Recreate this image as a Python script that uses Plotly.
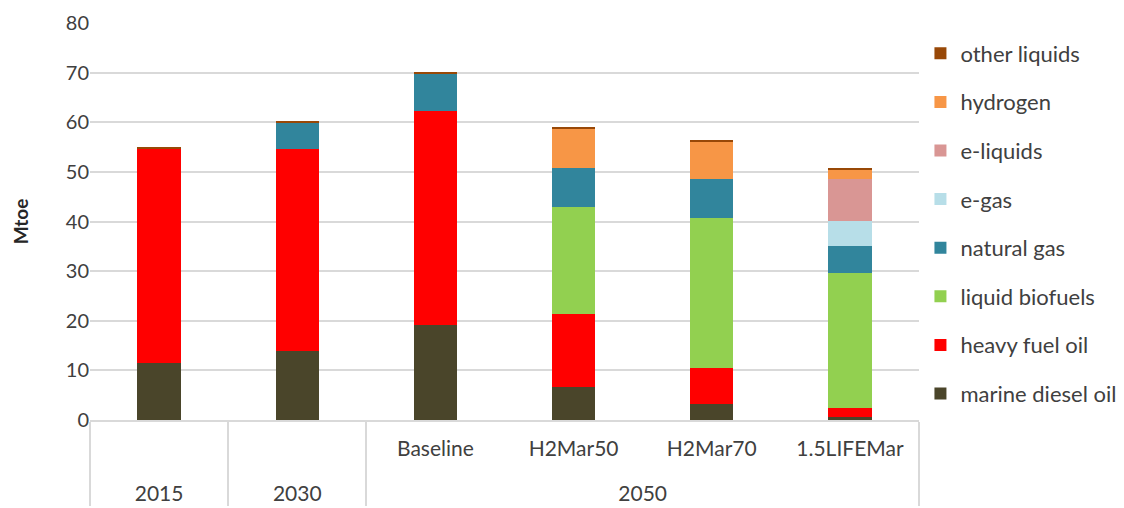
import plotly.graph_objects as go

outer = ["2015", "2030", "2050", "2050", "2050", "2050"]
inner = [" ", "  ", "Baseline", "H2Mar50", "H2Mar70", "1.5LIFEMar"]

marine_diesel_oil = [11.5, 14.0, 19.2, 6.6, 3.3, 0.6]
heavy_fuel_oil = [43.3, 40.6, 43.1, 14.8, 7.2, 1.9]
liquid_biofuels = [0, 0, 0, 21.6, 30.2, 27.1]
natural_gas = [0, 5.3, 7.6, 7.7, 7.8, 5.4]
e_gas = [0, 0, 0, 0, 0, 5.1]
e_liquids = [0, 0, 0, 0, 0, 8.4]
hydrogen = [0, 0, 0, 8.1, 7.6, 2.0]
other_liquids = [0.2, 0.3, 0.2, 0.2, 0.3, 0.3]

series = [
    ("marine diesel oil", marine_diesel_oil, "#4a452a"),
    ("heavy fuel oil", heavy_fuel_oil, "#ff0000"),
    ("liquid biofuels", liquid_biofuels, "#92d050"),
    ("natural gas", natural_gas, "#31859c"),
    ("e-gas", e_gas, "#b7dee8"),
    ("e-liquids", e_liquids, "#d99694"),
    ("hydrogen", hydrogen, "#f79646"),
    ("other liquids", other_liquids, "#984807"),
]

FONT = "Lato, Carlito, Calibri, sans-serif"

# inner labels get an extra blank line so the outer (year) row sits lower
inner_lbl = [s + "<br> " for s in inner]

fig = go.Figure()
n = len(series)
for i, (name, vals, col) in enumerate(series):
    fig.add_trace(go.Bar(
        x=[outer, inner_lbl], y=vals, name=name,
        marker=dict(color=col, line=dict(width=0)),
        legendgroup=f"g{i}", legendrank=n - i,
    ))

fig.update_layout(
    barmode="stack",
    bargap=0.686,
    width=1116, height=500,
    margin=dict(l=82, r=205, t=15, b=88),
    paper_bgcolor="white", plot_bgcolor="white",
    font=dict(family=FONT, size=20, color="#404040"),
    legend=dict(
        xref="container", yref="container",
        x=0.8176, xanchor="left", y=0.951, yanchor="top",
        traceorder="grouped", tracegroupgap=17,
        font=dict(size=22, color="#404040"),
        itemwidth=30, maxheight=1,
    ),
    showlegend=True,
)
fig.update_yaxes(
    range=[0, 80], dtick=10, showgrid=True, gridcolor="#d9d9d9", gridwidth=1.5,
    zeroline=False, ticks="", ticklen=0, automargin=False,
    title=dict(text="<b>Mtoe</b>", font=dict(size=19, color="#262626"), standoff=32),
    tickfont=dict(size=20, color="#404040"),
)
fig.update_xaxes(
    type="multicategory", showline=True, linecolor="#d9d9d9", linewidth=1.5,
    showdividers=True, dividercolor="#d9d9d9", dividerwidth=1.5,
    tickfont=dict(size=21, color="#404040"), ticks="", automargin=False,
    ticklabelstandoff=9,
)

fig.write_html("out.html")
